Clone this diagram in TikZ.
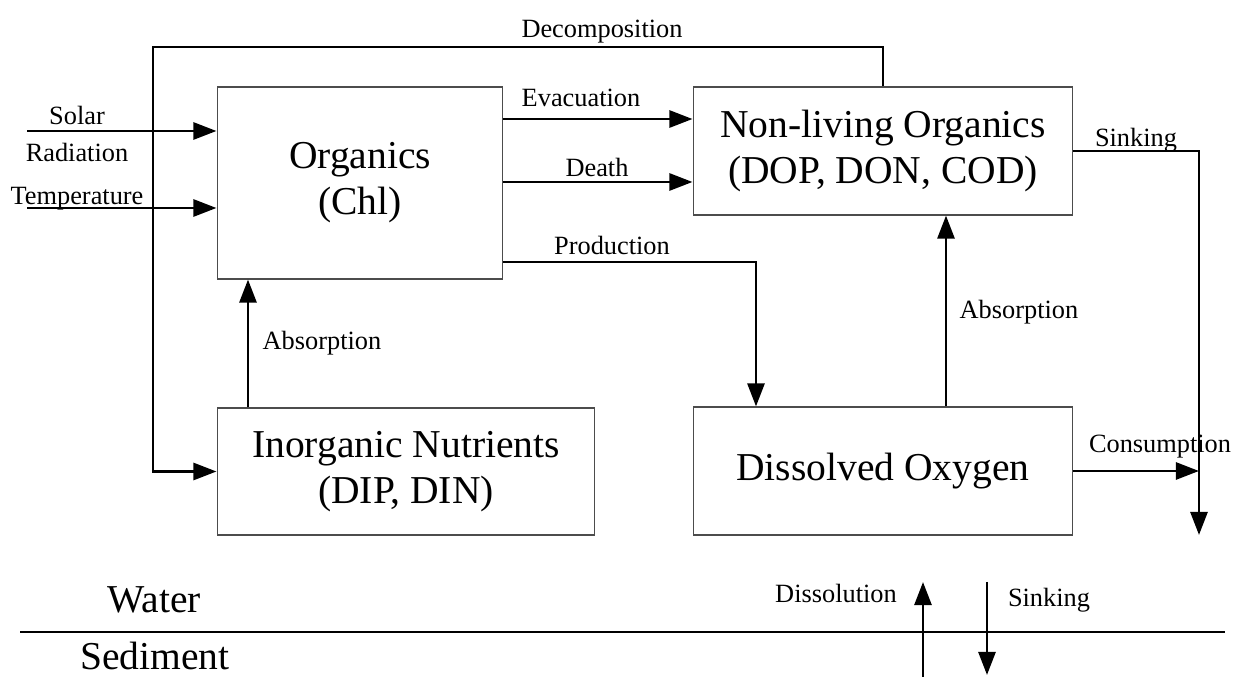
\documentclass[tikz,border=0pt]{standalone}
\usepackage{fontspec}
\setmainfont{Liberation Serif}
\usetikzlibrary{arrows.meta,positioning,calc}

\newcommand{\smallfnt}{\fontsize{12}{14}\selectfont}
\newcommand{\bigfnt}{\fontsize{18}{21}\selectfont}

\begin{document}
\begin{tikzpicture}[
    x=0.016cm, y=-0.016cm,
    box/.style={draw=black!70, line width=0.5pt, align=center, inner sep=0pt, font=\bigfnt},
    arr/.style={-{Triangle[length=10.5pt,width=7.7pt]}, line width=1.35pt},
    lbl/.style={inner sep=0pt, font=\smallfnt},
    biglbl/.style={inner sep=0pt, font=\bigfnt}
]
\useasboundingbox (0,0) rectangle (1241,677);

% compartments
\node[box, minimum width=4.576cm, minimum height=3.072cm] (organics) at (360,183) {Organics\\(Chl)};
\node[box, minimum width=6.08cm, minimum height=2.048cm] (nonliving) at (883,151) {Non-living Organics\\(DOP, DON, COD)};
\node[box, minimum width=6.048cm, minimum height=2.032cm] (inorganic) at (406,471.5) {Inorganic Nutrients\\(DIP, DIN)};
\node[box, minimum width=6.08cm, minimum height=2.048cm] (oxygen) at (883,471) {Dissolved Oxygen};

% free ends and bends
\coordinate (solar) at (27,131);
\coordinate (temp) at (27,208);
\coordinate (dcorner) at (153,47);
\coordinate (prod) at (756,262);
\coordinate (absl) at (248,0);
\coordinate (absr) at (946,0);
\coordinate (sinkend) at (1199,535);
\coordinate (wl) at (20,632);
\coordinate (wr) at (1225,632);
\coordinate (dis0) at (923,677);
\coordinate (dis1) at (923,582);
\coordinate (snk0) at (987,582);
\coordinate (snk1) at (987,675);

% fluxes
\draw[arr] (solar) -- (solar -| organics.west);
\draw[arr] (temp) -- (temp -| organics.west);
\draw[arr] (nonliving.north) |- (dcorner) |- (inorganic.west);
\draw[arr] ([yshift=0.512cm]nonliving.west -| organics.east) -- ([yshift=0.512cm]nonliving.west);
\draw[arr] ([yshift=-0.496cm]nonliving.west -| organics.east) -- ([yshift=-0.496cm]nonliving.west);
\draw[arr] (prod -| organics.east) -| (prod |- oxygen.north);
\draw[arr] (absl |- inorganic.north) -- (absl |- organics.south);
\draw[arr] (absr |- oxygen.north) -- (absr |- nonliving.south);
\draw[arr] (nonliving.east) -| (sinkend);
\draw[arr] (oxygen.east) -- (oxygen.east -| sinkend);

% water / sediment
\draw[line width=1.35pt] (wl) -- (wr);
\draw[arr] (dis0) -- (dis1);
\draw[arr] (snk0) -- (snk1);

% labels
\node[lbl, anchor=base] (lsolar) at (77,125) {Solar};
\node[lbl] (lrad) at (77,152) {Radiation};
\node[lbl, anchor=base] (ltemp) at (77,205) {Temperature};
\node[lbl, anchor=base] (ldecomp) at (602,38) {Decomposition};
\node[lbl, anchor=base] (levac) at (581,107) {Evacuation};
\node[lbl, anchor=base] (ldeath) at (597,177) {Death};
\node[lbl, anchor=base] (lprod) at (612,255) {Production};
\node[lbl] (labsl) at (322,343) {Absorption};
\node[lbl] (labsr) at (1019,312) {Absorption};
\node[lbl, anchor=base] (lsink) at (1136,147) {Sinking};
\node[lbl, anchor=base] (lcons) at (1160,453) {Consumption};
\node[lbl, anchor=base] (ldiss) at (836,603) {Dissolution};
\node[lbl, anchor=base] (lsinkb) at (1049,607) {Sinking};
\node[biglbl, anchor=base] (lwater) at (154,613) {Water};
\node[biglbl, anchor=base] (lsed) at (155,670) {Sediment};
\end{tikzpicture}
\end{document}
